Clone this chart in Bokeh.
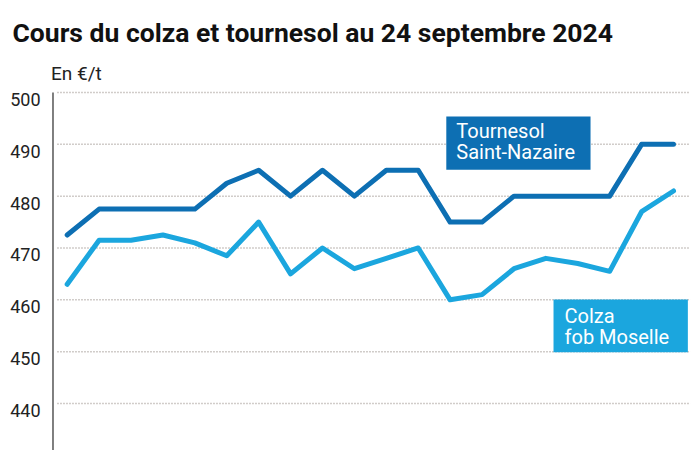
from bokeh.plotting import figure
from bokeh.models import Range1d
from bokeh.core.properties import value
from bokeh.embed import file_html
from bokeh.resources import INLINE

title = "Cours du colza et tournesol au 24 septembre 2024"
unit_label = "En €/t"
tick_values = [440, 450, 460, 470, 480, 490, 500]
tick_labels = [str(t) for t in tick_values]

tournesol_name = ["Tournesol", "Saint-Nazaire"]
tournesol = [472.5, 477.5, 477.5, 477.5, 477.5, 482.5, 485, 480, 485, 480,
             485, 485, 475, 475, 480, 480, 480, 480, 490, 490]

colza_name = ["Colza", "fob Moselle"]
colza = [463, 471.5, 471.5, 472.5, 471, 468.5, 475, 465, 470, 466,
         468, 470, 460, 461, 466, 468, 467, 465.5, 477, 481]

days = list(range(len(tournesol)))

DARK = "#0d6fb3"
LIGHT = "#1ba6de"
FONT = "Roboto"

X0, X1 = -2.09, 19.846
Y0, Y1 = 430.93, 517.75
AXIS_X = -0.445
GRID_X0, GRID_X1 = -0.304, 19.533

p = figure(width=700, height=450, output_backend="svg", toolbar_location=None,
           x_axis_location=None, y_axis_location=None,
           x_range=Range1d(X0, X1), y_range=Range1d(Y0, Y1),
           min_border=0, outline_line_color=None)
p.grid.visible = False

# dotted horizontal grid lines
n = len(tick_values)
p.segment(x0=[GRID_X0] * n, x1=[GRID_X1] * n, y0=tick_values, y1=tick_values,
          line_color="#a39b95", line_dash="1 2", line_width=1.5)

# value axis line and tick labels
p.segment(x0=[AXIS_X], x1=[AXIS_X], y0=[max(tick_values)], y1=[Y0],
          line_color="#555555", line_width=1.5)
p.text(x=[AXIS_X] * n, y=tick_values, text=tick_labels, x_offset=-12.5, y_offset=7,
       text_font=value(FONT), text_font_size="18px", text_color="#222222",
       text_align="right", text_baseline="alphabetic")

# unit and title
p.text(x=[AXIS_X], y=[max(tick_values)], text=[unit_label], x_offset=-2, y_offset=-19,
       text_font=value(FONT), text_font_size="19px", text_color="#222222",
       text_align="left", text_baseline="alphabetic")
p.text(x=[X0], y=[Y1], text=[title], x_offset=12, y_offset=31.5,
       text_font=value(FONT), text_font_size="26.5px", text_font_style="bold",
       text_color="#111111", text_align="left", text_baseline="alphabetic")

# series
p.line(days, tournesol, line_color=DARK, line_width=5, line_join="round", line_cap="round")
p.line(days, colza, line_color=LIGHT, line_width=5, line_join="round", line_cap="round")

# label boxes
p.quad(left=[11.88], right=[16.40], top=[495.37], bottom=[485.09],
       fill_color=DARK, line_color=None)
p.quad(left=[15.24], right=[19.45], top=[460.06], bottom=[449.9],
       fill_color=LIGHT, line_color=None)

for i, line in enumerate(tournesol_name):
    p.text(x=[11.88], y=[495.37], text=[line], x_offset=10, y_offset=15 + 21 * i,
           text_font=value(FONT), text_font_size="20px", text_color="white",
           text_baseline="alphabetic", text_align="left")
for i, line in enumerate(colza_name):
    p.text(x=[15.24], y=[460.06], text=[line], x_offset=11, y_offset=16 + 21.5 * i,
           text_font=value(FONT), text_font_size="20px", text_color="white",
           text_baseline="alphabetic", text_align="left")

open("out.html", "w").write(file_html(p, INLINE))
